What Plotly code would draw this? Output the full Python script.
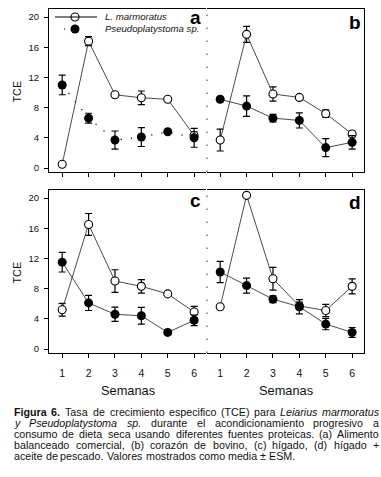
import plotly.graph_objects as go

W, H = 381, 477
FONT = "Liberation Sans"

weeks = [1, 2, 3, 4, 5, 6]
yticks = [0, 4, 8, 12, 16, 20]
panel_labels = ["a", "b", "c", "d"]
series_names = ["L. marmoratus", "Pseudoplatystoma sp."]

# (a) Alimento balanceado comercial
lm_a = [0.5, 16.8, 9.7, 9.3, 9.1, 4.3]
lm_a_se = [0.0, 0.6, 0.0, 0.9, 0.0, 0.5]
ps_a = [11.0, 6.6, 3.7, 4.1, 4.8, 4.0]
ps_a_se = [1.3, 0.65, 1.2, 1.25, 0.2, 1.25]
# (b) corazón de bovino
lm_b = [3.7, 17.7, 9.8, 9.35, 7.2, 4.5]
lm_b_se = [1.45, 1.05, 0.95, 0.15, 0.5, 0.35]
ps_b = [9.1, 8.2, 6.6, 6.3, 2.7, 3.4]
ps_b_se = [0.3, 1.35, 0.5, 1.0, 1.2, 0.9]
# (c) hígado
lm_c = [5.2, 16.5, 9.0, 8.3, 7.3, 4.9]
lm_c_se = [0.85, 1.45, 1.5, 0.9, 0.2, 0.75]
ps_c = [11.5, 6.1, 4.6, 4.4, 2.2, 3.8]
ps_c_se = [1.3, 1.0, 0.95, 1.1, 0.3, 0.7]
# (d) hígado + aceite de pescado
lm_d = [5.6, 20.35, 9.3, 5.7, 5.1, 8.3]
lm_d_se = [0.0, 0.0, 1.5, 0.5, 0.8, 1.0]
ps_d = [10.2, 8.4, 6.6, 5.6, 3.3, 2.2]
ps_d_se = [1.4, 1.0, 0.45, 0.95, 0.75, 0.65]

caption_lines = [
    [("Figura", "b"), ("6.", "b"), ("Tasa", "r"), ("de", "r"), ("crecimiento", "r"),
     ("especifico", "r"), ("(TCE)", "r"), ("para", "r"), ("Leiarius", "i"), ("marmoratus", "i")],
    [("y", "i"), ("Pseudoplatystoma", "i"), ("sp.", "i"), ("durante", "r"), ("el", "r"),
     ("acondicionamiento", "r"), ("progresivo", "r"), ("a", "r")],
    [(w, "r") for w in "consumo de dieta seca usando diferentes fuentes proteicas. (a) Alimento".split()],
    [(w, "r") for w in "balanceado comercial, (b) corazón de bovino, (c) hígado, (d) hígado +".split()],
    [(w, "r") for w in "aceite de pescado. Valores mostrados como media ± ESM.".split()],
]

# ---------------------------------------------------------------- helpers
def fx(px):
    return px / W

def fy(py):
    return 1 - py / H

REG = dict(zip("abcdefghijklmnopqrstuvwxyz",
               [556, 556, 500, 556, 556, 278, 556, 556, 222, 222, 500, 222, 833,
                556, 556, 556, 556, 333, 500, 278, 556, 500, 722, 500, 500, 500]))
REG.update({"A": 667, "C": 722, "E": 667, "F": 611, "L": 556, "M": 833, "P": 667,
            "S": 667, "T": 611, "V": 667, " ": 278, ".": 278, ",": 278, "(": 333,
            ")": 333, "+": 584, "±": 584, "í": 278, "ó": 556})
for d in "0123456789":
    REG[d] = 556
BOLD = dict(REG)
BOLD.update({"F": 611, "i": 278, "g": 611, "u": 611, "r": 389, "a": 556, "6": 556, ".": 278})

CAP_SIZE = 10.7

def text_w(s, style):
    tbl = BOLD if style == "b" else REG
    return sum(tbl.get(c, 556) for c in s) / 1000 * CAP_SIZE

panels = [
    dict(xd=(49, 206), yd=(9, 172), lm=lm_a, lms=lm_a_se, ps=ps_a, pss=ps_a_se, left=True, bottom=False, dotted=True),
    dict(xd=(207, 364), yd=(9, 172), lm=lm_b, lms=lm_b_se, ps=ps_b, pss=ps_b_se, left=False, bottom=False, dotted=False),
    dict(xd=(49, 206), yd=(190, 353), lm=lm_c, lms=lm_c_se, ps=ps_c, pss=ps_c_se, left=True, bottom=True, dotted=False),
    dict(xd=(207, 364), yd=(190, 353), lm=lm_d, lms=lm_d_se, ps=ps_d, pss=ps_d_se, left=False, bottom=True, dotted=False),
]

fig = go.Figure()
layout = dict(
    width=W, height=H, margin=dict(l=0, r=0, t=0, b=0),
    paper_bgcolor="white", plot_bgcolor="rgba(0,0,0,0)", showlegend=False,
    font=dict(family=FONT, color="#111"),
)
shapes = []
annotations = []

LINE_COL = "#4a4a4a"
for i, p in enumerate(panels):
    n = i + 1
    xa = "x" if n == 1 else f"x{n}"
    ya = "y" if n == 1 else f"y{n}"
    xkey = "xaxis" if n == 1 else f"xaxis{n}"
    ykey = "yaxis" if n == 1 else f"yaxis{n}"
    layout[xkey] = dict(
        domain=[fx(p["xd"][0]), fx(p["xd"][1])], range=[0.5, 6.45], anchor=ya,
        showgrid=False, zeroline=False, showline=True, mirror=True, linecolor="black", linewidth=1,
        tickmode="array", tickvals=weeks, ticktext=[str(w) for w in weeks],
        ticks="outside", ticklen=4, tickcolor="black", tickwidth=1,
        showticklabels=p["bottom"], tickfont=dict(size=10.5, family=FONT, color="#111"),
        ticklabelstandoff=6,
    )
    layout[ykey] = dict(
        domain=[fy(p["yd"][1]), fy(p["yd"][0])], range=[-0.53, 21.06], anchor=xa,
        showgrid=False, zeroline=False, showline=True, linecolor="black", linewidth=1,
        side="left" if p["left"] else "right",
        tickmode="array", tickvals=yticks if p["left"] else [],
        ticks="outside" if p["left"] else "", ticklen=4, tickcolor="black", tickwidth=1,
        showticklabels=p["left"], tickfont=dict(size=9.5, family=FONT, color="#111"),
        ticklabelstandoff=3,
    )
    # L. marmoratus (open)
    fig.add_trace(go.Scatter(
        x=weeks, y=p["lm"], xaxis=xa, yaxis=ya, mode="lines+markers", name=series_names[0],
        line=dict(color=LINE_COL, width=1),
        marker=dict(symbol="circle", size=8, color="white", line=dict(color="black", width=1.1)),
        error_y=dict(type="data", array=p["lms"], visible=True, color="black", thickness=1.2, width=3.5),
    ))
    # Pseudoplatystoma sp. (filled)
    fig.add_trace(go.Scatter(
        x=weeks, y=p["ps"], xaxis=xa, yaxis=ya, mode="lines+markers", name=series_names[1],
        line=dict(color=LINE_COL if not p["dotted"] else "#222", width=1 if not p["dotted"] else 1.3,
                  dash="1.3px,9px" if p["dotted"] else "solid"),
        marker=dict(symbol="circle", size=9, color="black", line=dict(color="black", width=0)),
        error_y=dict(type="data", array=p["pss"], visible=True, color="black", thickness=1.2, width=3.5),
    ))
    # dotted divider on the left of right-hand panels
    if not p["left"]:
        shapes.append(dict(type="line", xref="paper", yref="paper",
                           x0=fx(p["xd"][0]), x1=fx(p["xd"][0]),
                           y0=fy(p["yd"][1]), y1=fy(p["yd"][0]),
                           line=dict(color="#333", width=1, dash="1.5px,11.5px")))
    # y title
    if p["left"]:
        annotations.append(dict(text="TCE", xref="paper", yref="paper", x=fx(16),
                                y=fy((p["yd"][0] + p["yd"][1]) / 2 + 1), textangle=-90,
                                showarrow=False, font=dict(size=10.8, family=FONT, color="#111"),
                                xanchor="center", yanchor="middle"))
    if p["bottom"]:
        annotations.append(dict(text="Semanas", xref="paper", yref="paper",
                                x=fx((p["xd"][0] + p["xd"][1]) / 2), y=fy(390),
                                showarrow=False, font=dict(size=12.8, family=FONT, color="#111"),
                                xanchor="center", yanchor="middle"))

# panel letters
letter_pos = [(203, 18), (363, 22), (203, 200), (363, 202)]
for lab, (lx, ly) in zip(panel_labels, letter_pos):
    annotations.append(dict(text=f"<b>{lab}</b>", xref="paper", yref="paper", x=fx(lx), y=fy(ly),
                            xanchor="right", yanchor="middle", showarrow=False,
                            font=dict(size=19, family=FONT, color="black")))

# legend (panel a) on a hidden full-page pixel axis
layout["xaxis5"] = dict(domain=[0, 1], range=[0, W], visible=False, fixedrange=True, anchor="y5")
layout["yaxis5"] = dict(domain=[0, 1], range=[H, 0], visible=False, fixedrange=True, anchor="x5")
shapes.append(dict(type="line", xref="paper", yref="paper", x0=fx(55), x1=fx(97), y0=fy(17), y1=fy(17),
                   line=dict(color="black", width=1)))
shapes.append(dict(type="line", xref="paper", yref="paper", x0=fx(64), x1=fx(91), y0=fy(29), y1=fy(29),
                   line=dict(color="black", width=1.2, dash="1.2px,12.3px")))
fig.add_trace(go.Scatter(x=[75], y=[17], xaxis="x5", yaxis="y5", mode="markers", hoverinfo="skip",
                         marker=dict(symbol="circle", size=8, color="white", line=dict(color="black", width=1.1))))
fig.add_trace(go.Scatter(x=[75], y=[29], xaxis="x5", yaxis="y5", mode="markers", hoverinfo="skip",
                         marker=dict(symbol="circle", size=9, color="black")))
for name, ly in zip(series_names, [17, 29]):
    annotations.append(dict(text=f"<i>{name}</i>", xref="paper", yref="paper", x=fx(104), y=fy(ly),
                            xanchor="left", yanchor="middle", showarrow=False, borderpad=0,
                            font=dict(size=9.6, family=FONT, color="#111")))

# caption, justified word by word
cap_left, cap_right = 13, 378
cap_y = [412, 423, 434, 445, 456]
for li, (words, cy) in enumerate(zip(caption_lines, cap_y)):
    widths = [text_w(w, s) for w, s in words]
    if li < len(caption_lines) - 1:
        gap = (cap_right - cap_left - sum(widths)) / (len(words) - 1)
    else:
        gap = REG[" "] / 1000 * CAP_SIZE
    xcur = cap_left
    for (w, s), wd in zip(words, widths):
        txt = f"<b>{w}</b>" if s == "b" else (f"<i>{w}</i>" if s == "i" else w)
        annotations.append(dict(text=txt, xref="paper", yref="paper", x=fx(xcur), y=fy(cy),
                                xanchor="left", yanchor="middle", showarrow=False, borderpad=0,
                                font=dict(size=CAP_SIZE, family=FONT, color="#111")))
        xcur += wd + gap

layout["shapes"] = shapes
layout["annotations"] = annotations
fig.update_layout(**layout)
fig.write_html("out.html", config={"displayModeBar": False, "staticPlot": True},
               post_script="document.body.style.margin='0';")
